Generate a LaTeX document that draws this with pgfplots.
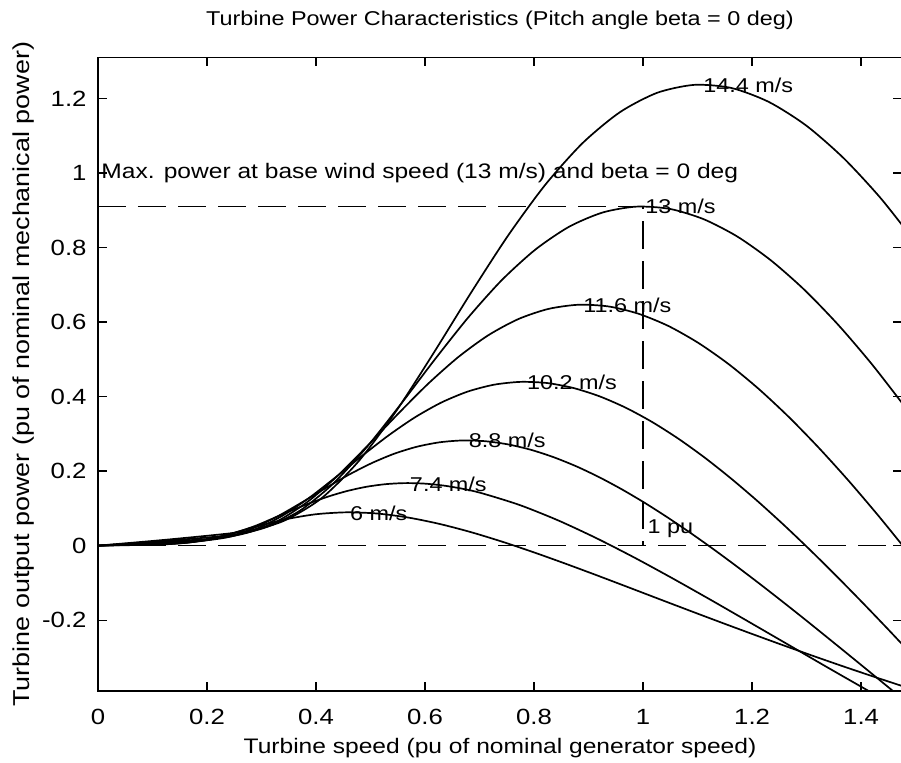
\documentclass[border=0pt]{standalone}
\usepackage{fontspec}
\setmainfont{Liberation Sans}[FakeStretch=1.17]
\usepackage{pgfplots}
\pgfplotsset{compat=1.18}
\newcommand{\fs}{\fontsize{20bp}{24bp}\selectfont}
\newcommand{\fl}{\fontsize{21bp}{25bp}\selectfont}
\newcommand{\ft}{\fontsize{22bp}{26bp}\selectfont}
\newcommand{\fy}{\fontsize{23bp}{27bp}\selectfont}
\tikzset{curve/.style={black, solid, line width=1.7bp, mark=none, smooth, tension=0.45},
         refline/.style={black, dash pattern=on 28bp off 12bp, line width=1.5bp, mark=none}}

\begin{document}
\begin{tikzpicture}[font=\fs]
\path[use as bounding box] (-98bp,-72bp) rectangle (803bp,691bp);
\begin{axis}[
  scale only axis, width=804bp, height=633.6bp,
  xmin=0, xmax=1.475, ymin=-0.39, ymax=1.31,
  axis line style={line width=1.5bp},
  tick align=inside, tick pos=both, major tick length=9bp,
  tick style={black, line width=1.3bp},
  xtick={0,0.2,0.4,0.6,0.8,1,1.2,1.4},
  xticklabels={0,0.2,0.4,0.6,0.8,1,1.2,1.4},
  ytick={-0.2,0,0.2,0.4,0.6,0.8,1,1.2},
  yticklabels={-0.2,0,0.2,0.4,0.6,0.8,1,1.2},
  xticklabel style={font=\ft, anchor=base, yshift=-34bp},
  yticklabel style={font=\ft, anchor=east, xshift=-8bp},
  every axis x label/.style={at={(axis description cs:0.5,0)}, anchor=base, yshift=-62bp, font=\fl},
  every axis y label/.style={at={(axis description cs:-0.0846,0.5)}, rotate=90, anchor=base, font=\fy},
  every axis title/.style={at={(axis description cs:0.5,1)}, anchor=base, yshift=32bp, font=\fs},
  title={Turbine Power Characteristics (Pitch angle beta = 0 deg)},
  xlabel={Turbine speed (pu of nominal generator speed)},
  ylabel={Turbine output power (pu of nominal mechanical power)},
]
% 6 m/s
\addplot[curve] coordinates {(0,0) (0.0570,0.0013) (0.1140,0.0028) (0.1709,0.0092) (0.2279,0.0261) (0.2849,0.0490) (0.3419,0.0700) (0.3989,0.0841) (0.4558,0.0894) (0.5128,0.0861) (0.5698,0.0752) (0.6268,0.0582) (0.6838,0.0364) (0.7407,0.0110) (0.7977,-0.0170) (0.8547,-0.0468) (0.9117,-0.0777) (0.9687,-0.1093) (1.0256,-0.1411) (1.0826,-0.1728) (1.1396,-0.2042) (1.1966,-0.2351) (1.2536,-0.2655) (1.3105,-0.2951) (1.3675,-0.3241) (1.4245,-0.3522) (1.4815,-0.3796)};
% 7.4 m/s
\addplot[curve] coordinates {(0,0) (0.0703,0.0024) (0.1406,0.0053) (0.2108,0.0173) (0.2811,0.0490) (0.3162,0.0700) (0.3514,0.0919) (0.3865,0.1128) (0.4217,0.1314) (0.4568,0.1465) (0.4919,0.1578) (0.5271,0.1649) (0.5622,0.1678) (0.5973,0.1666) (0.6325,0.1615) (0.6676,0.1530) (0.7028,0.1412) (0.7730,0.1093) (0.8433,0.0683) (0.9136,0.0206) (0.9839,-0.0319) (1.0541,-0.0878) (1.1244,-0.1458) (1.1947,-0.2050) (1.2650,-0.2646) (1.3352,-0.3241) (1.4055,-0.3830) (1.4758,-0.4411)};
% 8.8 m/s
\addplot[curve] coordinates {(0,0) (0.0836,0.0040) (0.1671,0.0089) (0.2507,0.0291) (0.2925,0.0519) (0.3343,0.0824) (0.3761,0.1178) (0.4179,0.1546) (0.4596,0.1898) (0.5014,0.2209) (0.5432,0.2465) (0.5850,0.2654) (0.6268,0.2773) (0.6686,0.2822) (0.7104,0.2802) (0.7521,0.2717) (0.7939,0.2573) (0.8357,0.2374) (0.8775,0.2128) (0.9193,0.1838) (0.9611,0.1510) (1.0029,0.1149) (1.0446,0.0760) (1.0864,0.0347) (1.1282,-0.0086) (1.1700,-0.0537) (1.2118,-0.1001) (1.2536,-0.1477) (1.2954,-0.1961) (1.3371,-0.2453) (1.3789,-0.2949) (1.4207,-0.3448) (1.4625,-0.3949) (1.5043,-0.4450)};
% 10.2 m/s
\addplot[curve] coordinates {(0,0) (0.0969,0.0062) (0.1937,0.0138) (0.2422,0.0239) (0.2906,0.0453) (0.3390,0.0808) (0.3875,0.1283) (0.4359,0.1834) (0.4843,0.2407) (0.5328,0.2955) (0.5812,0.3440) (0.6296,0.3838) (0.6781,0.4133) (0.7265,0.4318) (0.7749,0.4394) (0.8234,0.4364) (0.8718,0.4231) (0.9202,0.4006) (0.9687,0.3697) (1.0171,0.3313) (1.0655,0.2862) (1.1140,0.2351) (1.1624,0.1789) (1.2108,0.1184) (1.2593,0.0540) (1.3077,-0.0135) (1.3561,-0.0836) (1.4046,-0.1560) (1.4530,-0.2299) (1.5014,-0.3054)};
% 11.6 m/s
\addplot[curve] coordinates {(0,0) (0.1102,0.0092) (0.2203,0.0203) (0.2754,0.0352) (0.3305,0.0667) (0.3856,0.1188) (0.4406,0.1887) (0.4957,0.2698) (0.5508,0.3541) (0.6059,0.4347) (0.6610,0.5060) (0.7160,0.5645) (0.7711,0.6079) (0.8262,0.6351) (0.8813,0.6463) (0.9364,0.6418) (0.9914,0.6223) (1.0465,0.5893) (1.1016,0.5437) (1.1567,0.4873) (1.2118,0.4209) (1.2669,0.3458) (1.3219,0.2632) (1.3770,0.1742) (1.4321,0.0795) (1.4872,-0.0198)};
% 13 m/s
\addplot[curve] coordinates {(0,0) (0.1235,0.0129) (0.2469,0.0286) (0.3086,0.0495) (0.3704,0.0938) (0.4321,0.1672) (0.4938,0.2656) (0.5556,0.3797) (0.6173,0.4984) (0.6790,0.6118) (0.7407,0.7123) (0.8025,0.7945) (0.8642,0.8556) (0.9259,0.8939) (0.9877,0.9096) (1.0494,0.9034) (1.1111,0.8759) (1.1728,0.8294) (1.2346,0.7653) (1.2963,0.6859) (1.3580,0.5924) (1.4198,0.4867) (1.4815,0.3704)};
% 14.4 m/s
\addplot[curve] coordinates {(0,0) (0.1368,0.0175) (0.2735,0.0389) (0.3419,0.0672) (0.4103,0.1275) (0.4786,0.2273) (0.5470,0.3610) (0.6154,0.5161) (0.6838,0.6774) (0.7521,0.8315) (0.8205,0.9681) (0.8889,1.0799) (0.9573,1.1628) (1.0256,1.2149) (1.0940,1.2363) (1.1624,1.2278) (1.2308,1.1904) (1.2991,1.1273) (1.3675,1.0402) (1.4359,0.9322) (1.5043,0.8052)};
% reference lines
\addplot[refline] coordinates {(0,0.91) (1,0.91) (1,0)};
\addplot[refline] coordinates {(0,0) (1.475,0)};
% labels
\node[anchor=west, inner sep=0pt] at (axis cs:1.110,1.236) {14.4 m/s};
\node[anchor=west, inner sep=0pt] at (axis cs:1.004,0.909) {13 m/s};
\node[anchor=west, inner sep=0pt] at (axis cs:0.890,0.645) {11.6 m/s};
\node[anchor=west, inner sep=0pt] at (axis cs:0.787,0.439) {10.2 m/s};
\node[anchor=west, inner sep=0pt] at (axis cs:0.680,0.283) {8.8 m/s};
\node[anchor=west, inner sep=0pt] at (axis cs:0.572,0.165) {7.4 m/s};
\node[anchor=west, inner sep=0pt] at (axis cs:0.462,0.086) {6 m/s};
\node[anchor=west, inner sep=0pt] at (axis cs:1.008,0.046) {1 pu};
\node[anchor=base west, inner sep=0pt, font=\fl] at (axis cs:0.006,0.985) {Max. power at base wind speed (13 m/s) and beta = 0 deg};
\end{axis}
\end{tikzpicture}
\end{document}
